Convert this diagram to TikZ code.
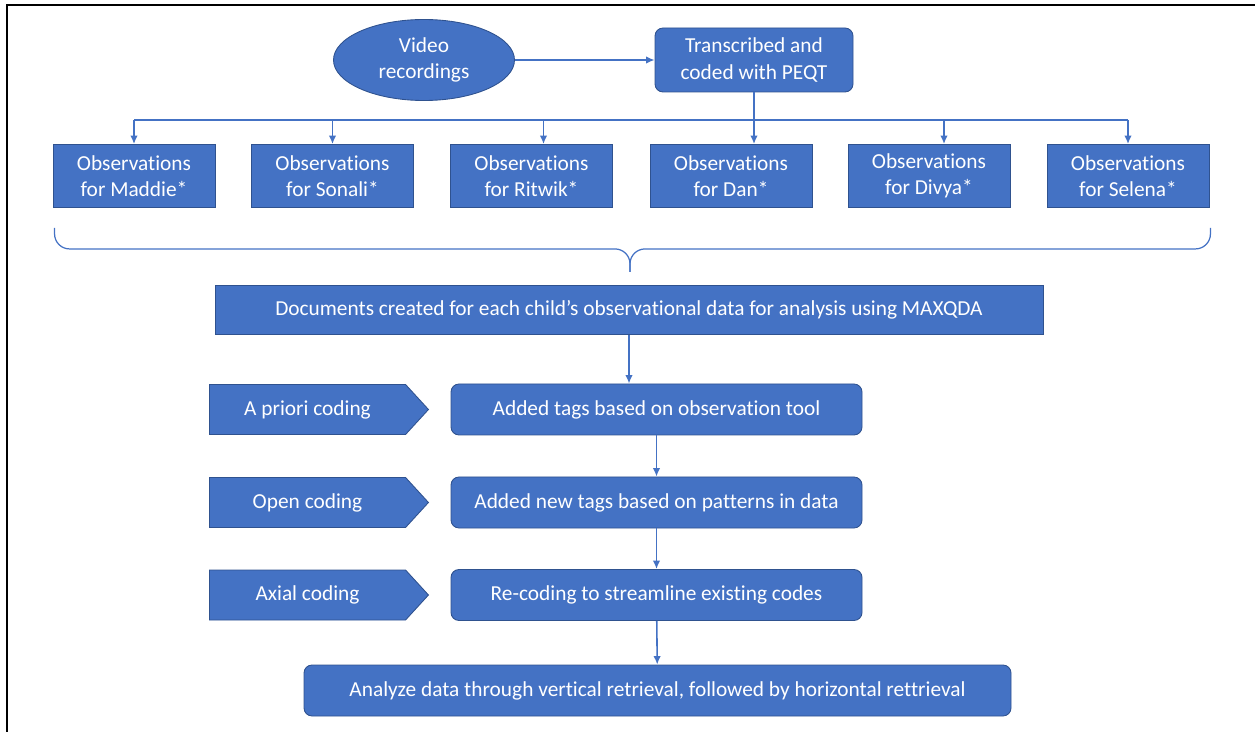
\documentclass[tikz,border=0pt]{standalone}
\usepackage{fontspec}
\setmainfont{Carlito}[Ligatures=NoCommon]
\usetikzlibrary{calc,shapes.geometric,shapes.symbols,arrows.meta}

\definecolor{officeblue}{HTML}{4472C4}
\definecolor{edgeblue}{HTML}{2F528F}

\tikzset{
  box/.style={draw=edgeblue,fill=officeblue,text=white,align=center,
    inner sep=0pt,line width=0.5pt,font=\fontsize{12.15}{14.8}\selectfont},
  obsbox/.style={box,minimum width=3.24cm,minimum height=1.26cm},
  stepbox/.style={box,rounded corners=0.16cm,minimum width=8.22cm,minimum height=1.02cm},
  chevron/.style={box,signal,signal to=east,signal pointer angle=95,
    minimum width=4.38cm,minimum height=1.0cm},
  flow/.style={->,>={Latex[length=1.7mm,width=1.5mm]},officeblue,line width=0.9pt},
  link/.style={officeblue,line width=0.9pt}
}

\begin{document}
\begin{tikzpicture}

\useasboundingbox (0,0) rectangle (25.1,-14.64);
% frame, only top and left edges show
\draw[line width=1.3pt] (25.1,-0.1) -- (0.14,-0.1) -- (0.14,-14.64);

% source
\node[box,ellipse,minimum width=3.62cm,minimum height=1.62cm] (video) at (8.48,-1.2) {Video\\recordings};
\node[box,rounded corners=0.16cm,minimum width=3.96cm,minimum height=1.28cm] (trans) at (15.08,-1.2) {Transcribed and\\coded with PEQT};
\draw[flow] (video) -- (trans);

% one box per child
\foreach \name/\x in {Maddie/2.68,Sonali/6.65,Ritwik/10.63,Dan/14.62,Divya/18.58,Selena/22.56}
  \node[obsbox] (obs\name) at (\x,-3.52) {Observations\\for \name*};

\coordinate (bus) at (0,-2.4);
\draw[link] (obsMaddie.north |- bus) -- (obsSelena.north |- bus);
\draw[flow] (trans.south) -- (trans.south |- obsDan.north);
\draw[flow] (obsMaddie.north |- bus) -- (obsMaddie.north);
\draw[flow] (obsSonali.north |- bus) -- (obsSonali.north);
\draw[flow] ([xshift=0.24cm]obsRitwik.north |- bus) -- ([xshift=0.24cm]obsRitwik.north);
\draw[flow] ([xshift=0.3cm]obsDivya.north |- bus) -- ([xshift=0.3cm]obsDivya.north);
\draw[flow] (obsSelena.north |- bus) -- (obsSelena.north);

% brace over all children
\coordinate (braceL) at ([xshift=0.04cm,yshift=-0.4cm]obsMaddie.south west);
\coordinate (braceR) at ([xshift=0.02cm,yshift=-0.4cm]obsSelena.south east);
\coordinate (braceTip) at ($(braceL)!0.5!(braceR)+(-0.05,-0.88)$);
\draw[link,line width=0.7pt,rounded corners=0.3cm]
  (braceL) -- ($(braceL)+(0,-0.42)$) -- ($(braceTip)+(0,0.46)$) -- (braceTip);
\draw[link,line width=0.7pt,rounded corners=0.3cm]
  (braceR) -- ($(braceR)+(0,-0.42)$) -- ($(braceTip)+(0,0.46)$) -- (braceTip);

\node[box,minimum width=16.56cm,minimum height=0.98cm] (docs) at (12.58,-6.2)
  {Documents created for each child’s observational data for analysis using MAXQDA};

% coding stages
\node[chevron] (apriori) at (6.15,-8.19) {A priori coding};
\node[chevron] (open) at (6.15,-10.05) {Open coding};
\node[chevron] (axial) at (6.15,-11.9) {Axial coding};

\node[stepbox] (added) at (13.13,-8.19) {Added tags based on observation tool};
\node[stepbox] (newtags) at (13.13,-10.05) {Added new tags based on patterns in data};
\node[stepbox] (recode) at (13.13,-11.9) {Re-coding to streamline existing codes};

\node[box,rounded corners=0.16cm,minimum width=14.14cm,minimum height=1.02cm] (analyze) at (13.15,-13.81)
  {Analyze data through vertical retrieval, followed by horizontal rettrieval};

\draw[flow] (docs.south) -- (docs.south |- added.north);
\draw[flow] (added) -- (newtags);
\draw[flow] (newtags) -- (recode);
\draw[flow] (recode) -- (analyze);

\end{tikzpicture}
\end{document}
